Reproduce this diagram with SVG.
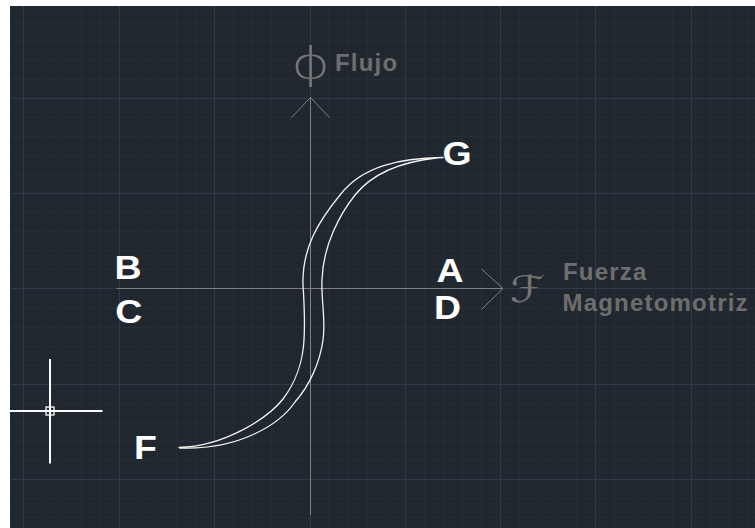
<svg xmlns="http://www.w3.org/2000/svg" width="755" height="528" viewBox="0 0 755 528">
  <style>
    .minor{stroke:#272d37;stroke-width:1;fill:none}
    .major{stroke:#313849;stroke-width:1;fill:none}
    .axis{stroke:#808080;stroke-width:1;fill:none}
    .loop{stroke:#f2f2f2;stroke-width:1.3;fill:none;stroke-linecap:round}
    .tag{font-family:"Liberation Sans",Arial,sans-serif;font-weight:bold;font-size:34px;fill:#ffffff}
    .name{font-family:"Liberation Sans",Arial,sans-serif;font-weight:bold;font-size:24px;fill:#6e6e6e;letter-spacing:1.2px}
    .sym{fill:#747474}
    .cursor{stroke:#ffffff;fill:none}
  </style>

  <!-- viewport frame and drawing area -->
  <rect width="755" height="528" fill="#ffffff"/>
  <rect x="10" y="6" width="745" height="522" fill="#21272f"/>

  <!-- drawing grid -->
  <g id="grid">
    <path class="minor" d="M42.5 6V528M61.5 6V528M81.5 6V528M100.5 6V528M138.5 6V528M157.5 6V528M176.5 6V528M195.5 6V528M233.5 6V528M252.5 6V528M271.5 6V528M290.5 6V528M328.5 6V528M347.5 6V528M367.5 6V528M386.5 6V528M424.5 6V528M443.5 6V528M462.5 6V528M481.5 6V528M519.5 6V528M538.5 6V528M557.5 6V528M576.5 6V528M614.5 6V528M634.5 6V528M653.5 6V528M672.5 6V528M710.5 6V528M729.5 6V528M748.5 6V528"/>
    <path class="minor" d="M10 22.5H755M10 41.5H755M10 60.5H755M10 79.5H755M10 117.5H755M10 136.5H755M10 155.5H755M10 174.5H755M10 212.5H755M10 231.5H755M10 250.5H755M10 269.5H755M10 308.5H755M10 327.5H755M10 346.5H755M10 365.5H755M10 403.5H755M10 422.5H755M10 441.5H755M10 460.5H755M10 498.5H755M10 517.5H755"/>
    <path class="major" d="M23.5 6V528M119.5 6V528M214.5 6V528M310.5 6V528M405.5 6V528M500.5 6V528M595.5 6V528M691.5 6V528"/>
    <path class="major" d="M10 98.5H755M10 193.5H755M10 288.5H755M10 384.5H755M10 479.5H755"/>
  </g>

  <!-- axes with open arrowheads -->
  <g id="axes">
    <path class="axis" d="M310.5 97.5V515"/>
    <path class="axis" d="M291.5 117.5L310.5 97.5L329.5 117.5"/>
    <path class="axis" d="M116.5 288.5H503"/>
    <path class="axis" d="M481.5 269L503 288.5L481.5 309.5"/>
  </g>

  <!-- axis titles -->
  <g id="flux-label">
    <text class="sym" transform="translate(310.5,78) scale(1.4,1)" text-anchor="middle" style="font-family:'DejaVu Sans',sans-serif;font-weight:200;font-size:43px">ϕ</text>
    <text class="name" x="335" y="70.5">Flujo</text>
  </g>
  <g id="mmf-label">
    <text class="sym" transform="translate(510,302) scale(1.2,1)" style="font-family:'DejaVu Serif','DejaVu Sans',serif;font-style:italic;font-size:37px">ℱ</text>
    <text class="name" x="563" y="279.5">Fuerza</text>
    <text class="name" x="562.5" y="311">Magnetomotriz</text>
  </g>

  <!-- hysteresis loop: upper/left branch and lower/right branch -->
  <g id="loop">
    <path class="loop" d="M443 157.5C400 158 362 166 340 195C318 222 302 248 303 285C304 300 305 322 304 340C303 360 296 382 283 399C268 418 225 446 179 447.5"/>
    <path class="loop" d="M436 158C400 162 372 174 355 195C340 214 323 245 322 280C321 300 326 320 323 340C320 362 310 385 295 402C280 424 240 450 180 448"/>
  </g>

  <!-- point labels -->
  <g id="point-G"><text class="tag" transform="translate(442.6,164.5) scale(1.1,1)">G</text></g>
  <g id="point-A"><text class="tag" transform="translate(436.5,281.7) scale(1.1,1)">A</text></g>
  <g id="point-D"><text class="tag" transform="translate(434,319) scale(1.1,1)">D</text></g>
  <g id="point-B"><text class="tag" transform="translate(114.6,279.3) scale(1.1,1)">B</text></g>
  <g id="point-C"><text class="tag" transform="translate(115.3,322.5) scale(1.1,1)">C</text></g>
  <g id="point-F"><text class="tag" transform="translate(134,459.3) scale(1.1,1)">F</text></g>

  <!-- cursor crosshair -->
  <g id="cursor">
    <path class="cursor" stroke-width="2" d="M50 359V463.5M10 411H102.5"/>
    <rect class="cursor" stroke-width="1.3" x="46" y="407" width="8" height="8"/>
  </g>
</svg>
